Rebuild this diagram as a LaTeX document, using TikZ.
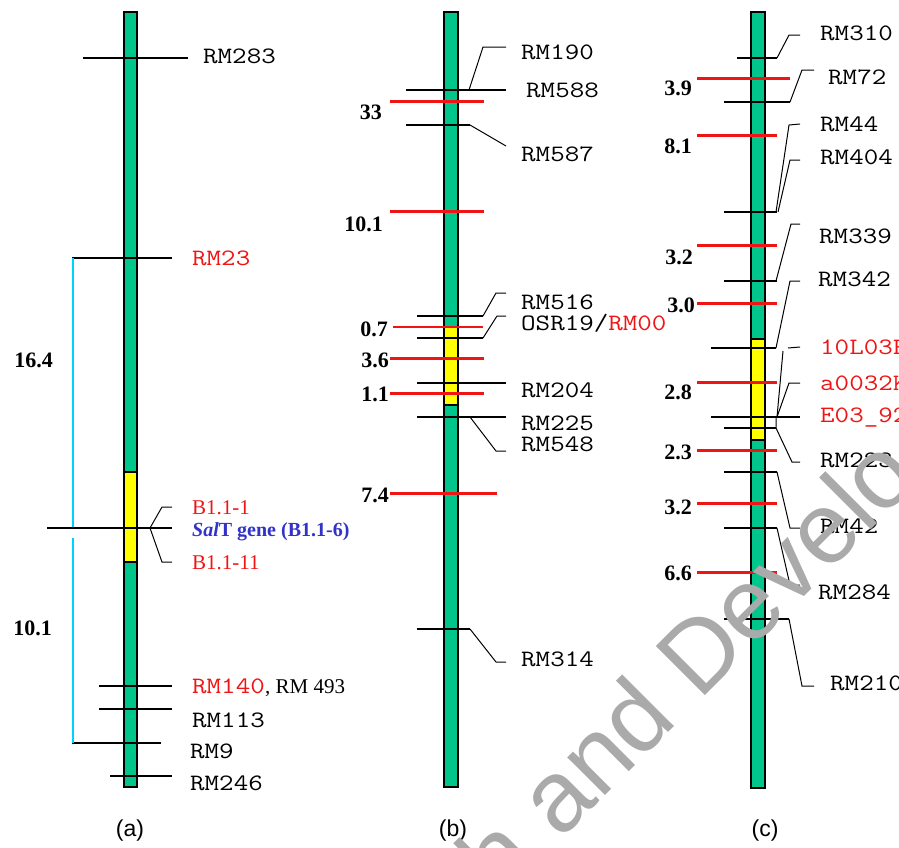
\documentclass[tikz,border=0pt]{standalone}
\usepackage{fontspec}
\setmainfont{Liberation Serif}
\setsansfont{Liberation Sans}
\setmonofont{Latin Modern Mono}[FakeStretch=1.2]
\usetikzlibrary{positioning}
\definecolor{chromgreen}{RGB}{0,198,140}
\definecolor{segyellow}{RGB}{255,255,0}
\definecolor{qtlred}{RGB}{240,20,20}
\definecolor{geneblue}{RGB}{50,50,200}
\definecolor{linkcyan}{RGB}{0,210,255}
\definecolor{wmgray}{RGB}{170,170,170}
\tikzset{
  chrom/.style={draw=black,fill=chromgreen,line width=1.3pt},
  yseg/.style={draw=black,fill=segyellow,line width=1.1pt},
  mline/.style={draw=black,line width=1.2pt},
  qline/.style={draw=qtlred,line width=3pt},
  leader/.style={draw=black,line width=1pt},
  link/.style={draw=linkcyan,line width=1.6pt},
  mlab/.style={font=\ttfamily\fontsize{23.5}{24}\selectfont,anchor=west,inner sep=0pt,
    text height=14pt,text depth=0pt,text=#1},
  mlab/.default=black,
  blab/.style={font=\fontsize{21}{24}\selectfont,anchor=west,inner sep=0pt,
    text height=14pt,text depth=0pt,text=#1},
  blab/.default=black,
  lod/.style={font=\bfseries\fontsize{22}{24}\selectfont,anchor=east,inner sep=0pt,
    text height=15pt,text depth=0pt},
  panel/.style={font=\sffamily\fontsize{23}{24}\selectfont},
  wmark/.style={font=\sffamily\fontsize{101}{101}\selectfont,text=wmgray,rotate=45},
}
\begin{document}
\begin{tikzpicture}[x=1pt,y=-1pt]
  \useasboundingbox (0,0) rectangle (899,847);
  \clip (0,0) rectangle (899,847);
  % (a)
  \draw[chrom] (124,12) rectangle (137,787);
  \draw[yseg] (124,472) rectangle (137,562);
  \foreach \y/\xa/\xb in {58/83/188,258/72/172,528/47/172,686/99/172,709/99/172,743/72/161,776/110/172}
    \draw[mline] (\xa,\y) -- (\xb,\y);
  \draw[link] (73,258) -- (73,527) (73,538) -- (73,743);
  \node[mlab] (rm283) at (203,56) {RM283};
  \node[mlab=qtlred] (rm23) at (192,258) {RM23};
  \node[blab=qtlred] (b11a) at (192,507) {B1.1-1};
  \node[blab=geneblue,font=\bfseries\fontsize{20}{24}\selectfont] (salt) at (192,529) {\textit{Sal}T gene (B1.1-6)};
  \node[blab=qtlred] (b11b) at (192,562) {B1.1-11};
  \node[mlab=qtlred] (rm140) at (192,686) {RM140};
  \node[blab,right=0pt of rm140] (rm493) {, RM 493};
  \node[mlab] (rm113) at (192,720) {RM113};
  \node[mlab] (rm9) at (190,751) {RM9};
  \node[mlab] (rm246) at (190,783) {RM246};
  \draw[leader] ([xshift=-20]b11a.west) -- (162,507) -- (150,528) -- (162,562) -- ([xshift=-20]b11b.west);
  \node[lod] (la1) at (53,360) {16.4};
  \node[lod] (la2) at (52,628) {10.1};
  \node[panel] (pa) at (130,831) {(a)};
  % (b)
  \draw[chrom] (444,12) rectangle (458,787);
  \draw[yseg] (444,327) rectangle (458,405);
  \foreach \y/\xa/\xb in {90/406/506,125/406/470,316/417/483,338/417/483,383/417/506,417/417/506,629/417/470}
    \draw[mline] (\xa,\y) -- (\xb,\y);
  \foreach \y/\xb in {101/484,211/484,358/484,393/484,493/497}
    \draw[qline] (390,\y) -- (\xb,\y);
  \draw[qline,line width=1.2pt] (393,327) -- (483,327);
  \node[mlab] (rm190) at (521,52) {RM190};
  \node[mlab] (rm588) at (526,90) {RM588};
  \node[mlab] (rm587) at (521,154) {RM587};
  \node[mlab] (rm516) at (521,302) {RM516};
  \node[mlab] (osr19) at (521,323) {OSR19/\textcolor{qtlred}{RM00}};
  \node[mlab] (rm204) at (521,390) {RM204};
  \node[mlab] (rm225) at (521,423) {RM225};
  \node[mlab] (rm548) at (521,444) {RM548};
  \node[mlab] (rm314) at (521,659) {RM314};
  \draw[leader] (469,90) -- (483,47) -- ([xshift=-15,yshift=5]rm190.west);
  \draw[leader] (470,125) -- ([xshift=-15,yshift=8]rm587.west);
  \draw[leader] (483,316) -- (496,293) -- ([xshift=-15,yshift=9]rm516.west);
  \draw[leader] (483,338) -- (497,316) -- ([xshift=-15,yshift=7]osr19.west);
  \draw[leader] (470,417) -- (496,451) -- ([xshift=-15,yshift=-7]rm548.west);
  \draw[leader] (470,629) -- (496,662) -- ([xshift=-15,yshift=-3]rm314.west);
  \node[lod] (lb1) at (382,112) {33};
  \node[lod] (lb2) at (383,224) {10.1};
  \node[lod] (lb3) at (388,329) {0.7};
  \node[lod] (lb4) at (389,360) {3.6};
  \node[lod] (lb5) at (389,394) {1.1};
  \node[lod] (lb6) at (389,495) {7.4};
  \node[panel] (pb) at (453,831) {(b)};
  % (c)
  \draw[chrom] (751,12) rectangle (765,788);
  \draw[yseg] (751,339) rectangle (765,440);
  \foreach \y/\xa/\xb in {58/737/777,102/724/790,212/724/777,281/724/777,348/711/776,417/711/800,428/724/776,472/724/777,528/724/777,619/724/789}
    \draw[mline] (\xa,\y) -- (\xb,\y);
  \foreach \y/\xb in {78/790,135/777,245/777,303/777,382/777,450/777,503/777,572/777}
    \draw[qline] (697,\y) -- (\xb,\y);
  \node[mlab] (rm310) at (820,33) {RM310};
  \node[mlab] (rm72) at (828,77) {RM72};
  \node[mlab] (rm44) at (820,124) {RM44};
  \node[mlab] (rm404) at (820,157) {RM404};
  \node[mlab] (rm339) at (819,236) {RM339};
  \node[mlab] (rm342) at (818,279) {RM342};
  \node[mlab=qtlred] (fw10) at (820,347) {10L03FW};
  \node[mlab=qtlred] (k0032) at (820,383) {a0032K0};
  \node[mlab=qtlred] (e0392) at (820,415) {E03\_92};
  \node[mlab] (rm223) at (820,460) {RM223};
  \node[mlab] (rm42) at (820,526) {RM42};
  \node[mlab] (rm284) at (818,592) {RM284};
  \node[mlab] (rm210) at (830,683) {RM210};
  \draw[leader] (777,58) -- (789,35) -- ([xshift=-20,yshift=-2]rm310.west);
  \draw[leader] (790,102) -- (802,70) -- ([xshift=-14,yshift=7]rm72.west);
  \draw[leader] (776,212) -- (789,125) -- ([xshift=-20]rm44.west);
  \draw[leader] (778,212) -- (790,160) -- ([xshift=-20,yshift=-3]rm404.west);
  \draw[leader] (776,281) -- (791,224) -- ([xshift=-19,yshift=12]rm339.west);
  \draw[leader] (776,348) -- (790,281) -- ([xshift=-18,yshift=-2]rm342.west);
  \draw[leader] (777,417) -- (783,351);
  \draw[leader] (788,348) -- ([xshift=-20]fw10.west);
  \draw[leader] (777,417) -- (789,383) -- ([xshift=-20]k0032.west);
  \draw[leader] (776,417) -- (776,428) -- (792,462) -- ([xshift=-20,yshift=-2]rm223.west);
  \draw[leader] (777,472) -- (790,528) -- ([xshift=-20,yshift=-2]rm42.west);
  \draw[leader] (777,528) -- (790,585) -- ([xshift=-18,yshift=7]rm284.west);
  \draw[leader] (789,619) -- (802,686) -- ([xshift=-16,yshift=-3]rm210.west);
  \node[lod] (lc1) at (692,88) {3.9};
  \node[lod] (lc2) at (692,146) {8.1};
  \node[lod] (lc3) at (693,257) {3.2};
  \node[lod] (lc4) at (695,305) {3.0};
  \node[lod] (lc5) at (692,392) {2.8};
  \node[lod] (lc6) at (692,452) {2.3};
  \node[lod] (lc7) at (692,507) {3.2};
  \node[lod] (lc8) at (692,573) {6.6};
  \node[panel] (pc) at (765,831) {(c)};
  % watermark
  \node[wmark] (wm) at (668,682) {ch and Develo};
\end{tikzpicture}
\end{document}
